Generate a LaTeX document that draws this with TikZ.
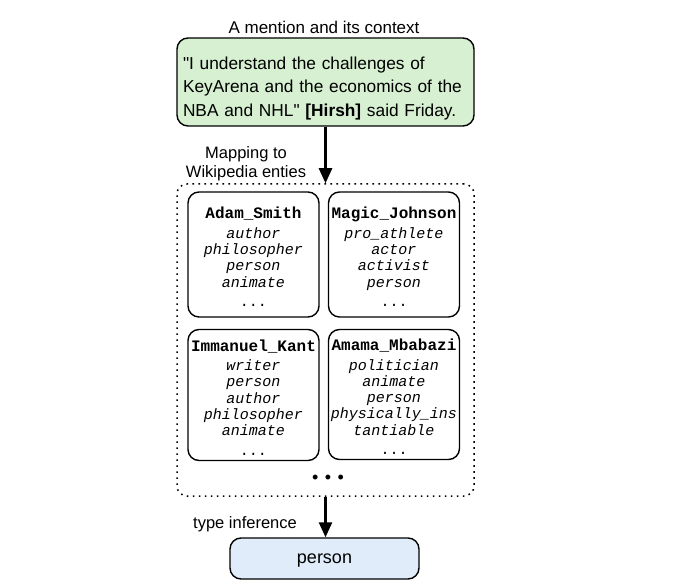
\documentclass[tikz,border=0pt]{standalone}
\usepackage{fontspec}
\setmainfont{Liberation Sans}
\setmonofont{Liberation Mono}
\usetikzlibrary{arrows.meta}
\definecolor{ctxfill}{RGB}{214,240,209}
\definecolor{resfill}{RGB}{224,236,250}
\tikzset{
  rbox/.style={draw=black, line width=1.4pt, rounded corners=11pt},
  entbox/.style={rbox, minimum width=131pt, minimum height=125pt, inner sep=0pt, align=center,
    font=\fontsize{15}{16.3}\selectfont\ttfamily},
  lbl/.style={font=\fontsize{16.5}{19}\selectfont, align=center, inner sep=0pt},
  flow/.style={line width=2.5pt, -{Triangle[length=15pt,width=13pt]}},
  mapbox/.style={draw=black, line width=1.5pt, dash pattern=on 1.6pt off 4.4pt, rounded corners=10pt,
    minimum width=297pt, minimum height=312pt, inner sep=0pt},
}
\newcommand{\ename}[1]{{\fontsize{16}{18}\selectfont\bfseries\rule{0pt}{16.5pt}#1}\\[3pt]}
\newcommand{\etype}[1]{\textit{#1}\\}
\begin{document}
\begin{tikzpicture}[x=1pt,y=-1pt]
\useasboundingbox (0,0) rectangle (680,588);
\node[lbl, font=\fontsize{17}{19}\selectfont] (title) at (324,27) {A mention and its context};
\node[rbox, fill=ctxfill, minimum width=297pt, minimum height=88pt, text width=285pt, inner xsep=6pt,
      inner ysep=0pt, text height=25pt, align=left, font=\fontsize{17.3}{23.5}\selectfont] (ctx) at (325.5,82)
  {\textquotedbl I understand the challenges of\\KeyArena and the economics of the\\NBA and NHL\textquotedbl{} \textbf{[Hirsh]} said Friday.};
\node[lbl] (maplbl) at (246,164) {Mapping to\\Wikipedia enties};
\node[mapbox] (map) at (325.5,340) {};
\node[entbox] (e1) at (253.5,254.5) {\ename{Adam\_Smith}\etype{author}\etype{philosopher}\etype{person}\etype{animate}\\[-13pt]...};
\node[entbox] (e2) at (394,254.5) {\ename{Magic\_Johnson}\etype{pro\_athlete}\etype{actor}\etype{activist}\etype{person}\\[-13pt]...};
\node[entbox, minimum height=131pt] (e3) at (253.5,395) {\ename{Immanuel\_Kant}\etype{writer}\etype{person}\etype{author}\etype{philosopher}\etype{animate}\\[-13pt]...};
\node[entbox, minimum height=130pt] (e4) at (394,394.5) {\ename{Amama\_Mbabazi}\etype{politician}\etype{animate}\etype{person}\etype{physically\_ins}\etype{tantiable}\\[-13pt]...};
\node[font=\fontsize{18}{20}\selectfont, inner sep=0pt] (more) at (328,479.5) {•\hspace{6.5pt}•\hspace{6.5pt}•};
\node[lbl] (tilbl) at (245,524) {type inference};
\node[rbox, fill=resfill, minimum width=189pt, minimum height=41pt, inner sep=0pt, text height=13.2pt, text depth=3.8pt,
      font=\fontsize{18}{20}\selectfont] (res) at (324.5,558.5) {person};
\draw[flow] (ctx.south) -- (map.north);
\draw[flow] (map.south) -- (map.south |- res.north);
\end{tikzpicture}
\end{document}
